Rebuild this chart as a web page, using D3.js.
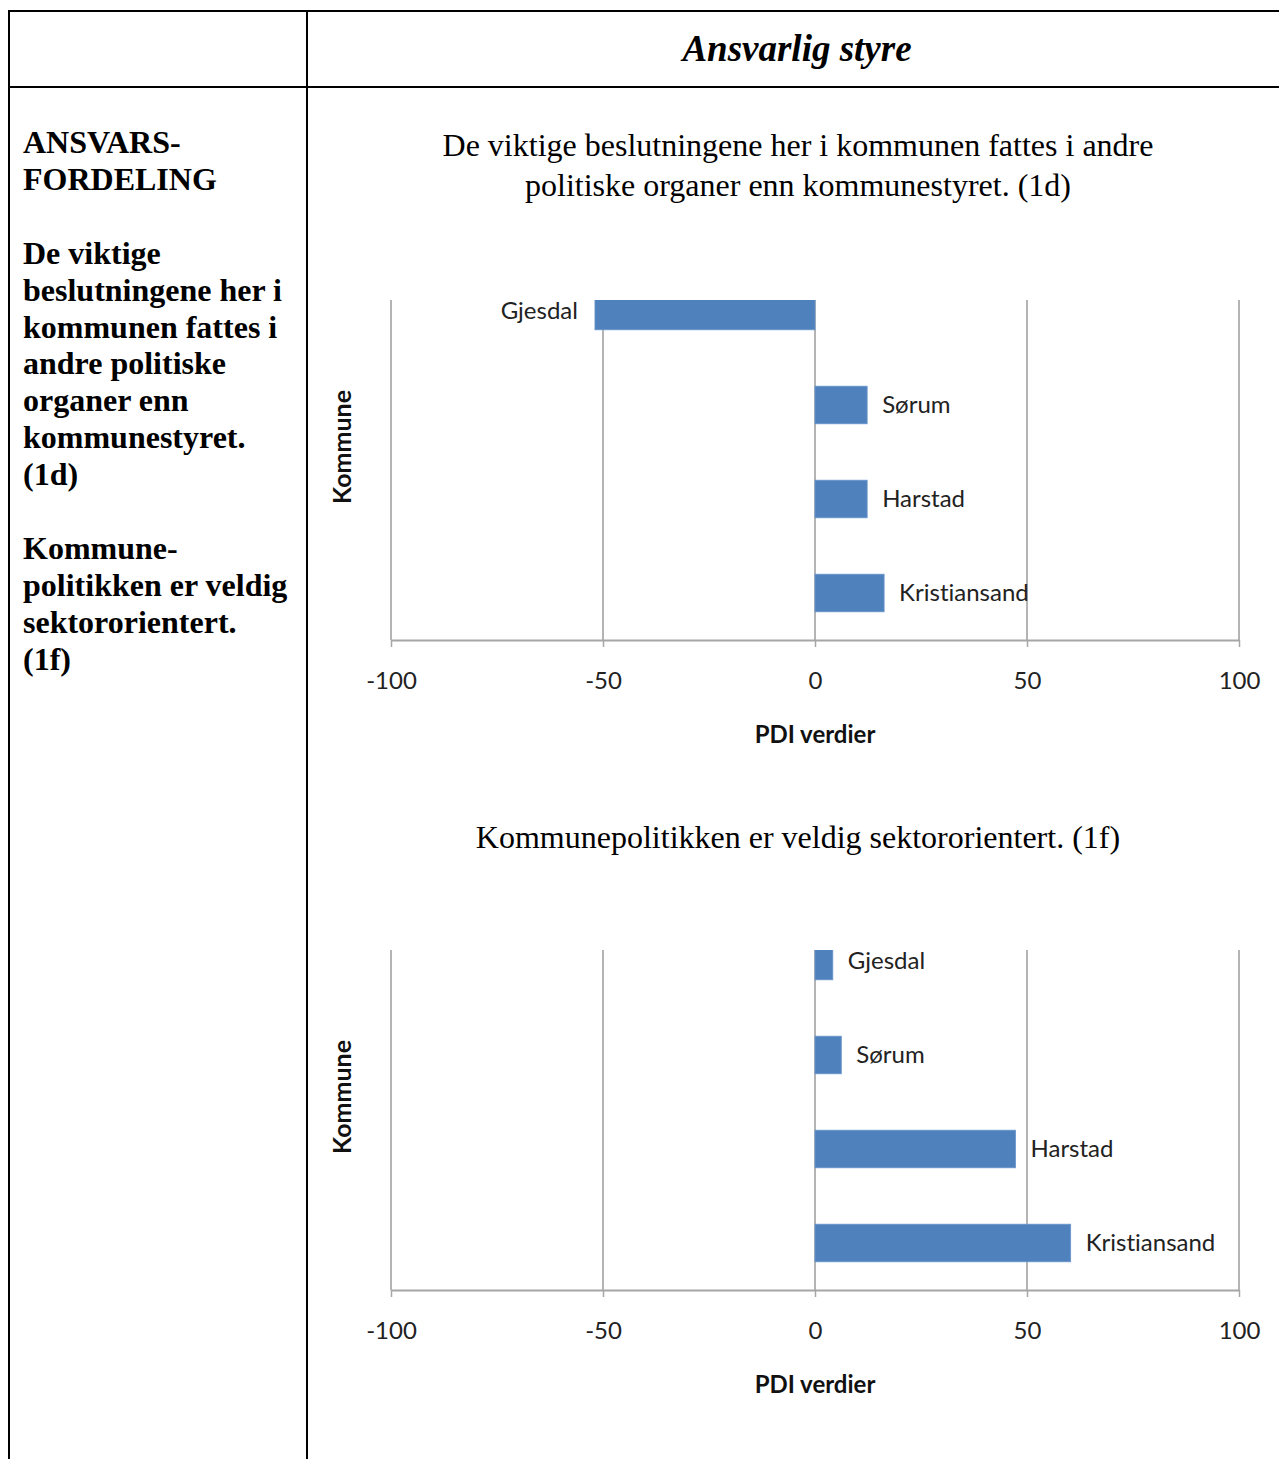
<!DOCTYPE html>
<html>
<head>
<meta charset="utf-8">
<script src="https://cdn.jsdelivr.net/npm/d3@7"></script>
<style>
  html, body { margin: 0; padding: 0; background: #fff; }
  svg { display: block; }
  text { font-variant-ligatures: none; }
</style>
</head>
<body>
<div id="chart"></div>
<script>
// ---- data ----
const categories = ["Gjesdal", "Sørum", "Harstad", "Kristiansand"];
const values1d = [-51.9, 12.3, 12.3, 16.3];
const values1f = [4.2, 6.2, 47.3, 60.3];
const xTicks = [-100, -50, 0, 50, 100];
const headerTitle = "Ansvarlig styre";
const title1d = ["De viktige beslutningene her i kommunen fattes i andre", "politiske organer enn kommunestyret. (1d)"];
const title1f = ["Kommunepolitikken er veldig sektororientert. (1f)"];
const leftLines = ["ANSVARS-", "FORDELING", "", "De viktige", "beslutningene her i", "kommunen fattes i", "andre politiske", "organer enn", "kommunestyret.", "(1d)", "", "Kommune-", "politikken er veldig", "sektororientert.", "(1f)"];
const xTitle = "PDI verdier";
const yTitle = "Kommune";

// ---- layout ----
const W = 1279, H = 1459;
const serif = "'Liberation Serif', 'Times New Roman', serif";
const sans = "Lato, 'Open Sans', sans-serif";
const barColor = "#4f81bd";

const svg = d3.select("#chart").append("svg").attr("width", W).attr("height", H);

// table frame
const tbl = svg.append("g").attr("stroke", "#000").attr("stroke-width", 2);
tbl.append("line").attr("x1", 8).attr("x2", W).attr("y1", 11).attr("y2", 11);
tbl.append("line").attr("x1", 8).attr("x2", W).attr("y1", 87).attr("y2", 87);
tbl.append("line").attr("x1", 9).attr("x2", 9).attr("y1", 10).attr("y2", H);
tbl.append("line").attr("x1", 307).attr("x2", 307).attr("y1", 10).attr("y2", H);

svg.append("text").attr("x", 797).attr("y", 61).attr("text-anchor", "middle")
  .attr("font-family", serif).attr("font-size", 37).attr("font-weight", "bold").attr("font-style", "italic")
  .text(headerTitle);

svg.append("g").selectAll("text").data(leftLines).join("text")
  .attr("x", 23).attr("y", (d, i) => 153 + i * 36.9)
  .attr("font-family", serif).attr("font-size", 32).attr("font-weight", "bold")
  .text(d => d);

const x = d3.scaleLinear().domain([-100, 100]).range([391, 1239]);

function drawChart(offset, titleLines, values) {
  const g = svg.append("g").attr("transform", `translate(0,${offset})`);
  const plotTop = 300, axisY = 640;
  const y = d3.scaleBand().domain(categories).range([264, axisY]).paddingInner(0.6).paddingOuter(0.3);

  g.selectAll("text.title").data(titleLines).join("text").attr("class", "title")
    .attr("x", 798).attr("y", (d, i) => 156 + i * 40 + (titleLines.length === 1 ? 42 : 0))
    .attr("text-anchor", "middle").attr("font-family", serif).attr("font-size", 32)
    .attr("fill", "#000").text(d => d);

  // gridlines
  g.append("g").selectAll("line").data(xTicks).join("line")
    .attr("x1", d => x(d)).attr("x2", d => x(d))
    .attr("y1", plotTop).attr("y2", axisY)
    .attr("stroke", "#8c8c8c").attr("stroke-width", 1.3);

  // clip
  const cid = "clip" + offset;
  g.append("clipPath").attr("id", cid).append("rect")
    .attr("x", x(-100)).attr("y", plotTop).attr("width", x(100) - x(-100)).attr("height", axisY - plotTop);

  const data = categories.map((c, i) => ({ c, v: values[i] }));
  g.append("g").attr("clip-path", `url(#${cid})`).selectAll("rect").data(data).join("rect")
    .attr("x", d => x(Math.min(0, d.v))).attr("width", d => Math.abs(x(d.v) - x(0)))
    .attr("y", d => y(d.c)).attr("height", y.bandwidth())
    .attr("fill", barColor).attr("stroke", "#6a96cc").attr("stroke-width", 0.8);

  g.append("g").selectAll("text").data(data).join("text")
    .attr("x", d => d.v < 0 ? x(d.v) - 17 : x(d.v) + 15)
    .attr("y", d => y(d.c) + y.bandwidth() / 2)
    .attr("dy", "0.35em")
    .attr("text-anchor", d => d.v < 0 ? "end" : "start")
    .attr("font-family", sans).attr("font-size", 24).attr("fill", "#222")
    .text(d => d.c);

  // x axis
  const ax = g.append("g").attr("transform", `translate(0,${axisY})`)
    .call(d3.axisBottom(x).tickValues(xTicks).tickSize(7).tickSizeOuter(0).tickPadding(25).tickFormat(d => String(d)));
  ax.select(".domain").attr("stroke", "#a6a6a6").attr("stroke-width", 2);
  ax.selectAll(".tick line").attr("stroke", "#a6a6a6").attr("stroke-width", 1.5);
  ax.selectAll(".tick text").attr("font-family", sans).attr("font-size", 24).attr("fill", "#222");

  g.append("text").attr("x", x(0)).attr("y", 743).attr("text-anchor", "middle")
    .attr("font-family", sans).attr("font-size", 24).attr("font-weight", "bold").attr("fill", "#111")
    .text(xTitle);

  g.append("text").attr("transform", `translate(351,${(plotTop + axisY) / 2 - 23}) rotate(-90)`)
    .attr("text-anchor", "middle")
    .attr("font-family", sans).attr("font-size", 25).attr("font-weight", "bold").attr("fill", "#111")
    .text(yTitle);
}

drawChart(0, title1d, values1d);
drawChart(650, title1f, values1f);
</script>
</body>
</html>
